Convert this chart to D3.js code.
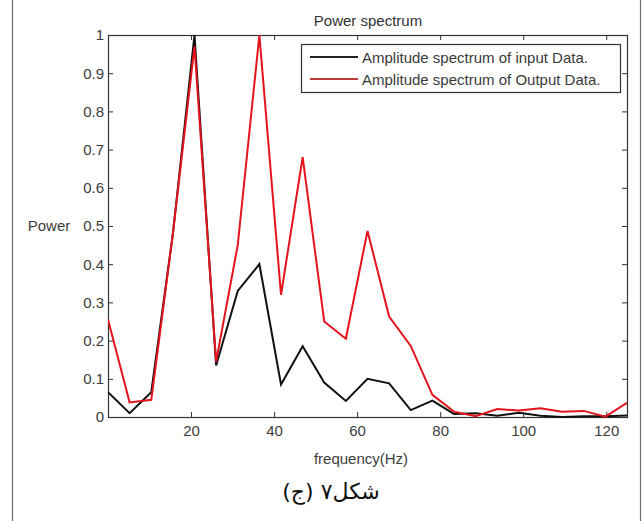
<!DOCTYPE html>
<html>
<head>
<meta charset="utf-8">
<script src="https://cdn.jsdelivr.net/npm/d3@7"></script>
<style>
  html, body { margin: 0; padding: 0; background: #fff; }
  svg { display: block; }
  text { font-family: "Liberation Sans", Arial, sans-serif; }
</style>
</head>
<body>
<div id="chart"></div>
<script>
// ---- data ----
const frequency = [0, 5.21, 10.42, 15.63, 20.83, 26.04, 31.25, 36.46, 41.67, 46.88, 52.08, 57.29,
  62.5, 67.71, 72.92, 78.13, 83.33, 88.54, 93.75, 98.96, 104.17, 109.38, 114.58, 119.79, 125];
const inputSpectrum = [0.065, 0.01, 0.065, 0.48, 1.0, 0.135, 0.33, 0.40, 0.085, 0.185, 0.09, 0.042,
  0.10, 0.088, 0.018, 0.043, 0.008, 0.01, 0.003, 0.011, 0.003, 0.0, 0.002, 0.002, 0.004];
const outputSpectrum = [0.255, 0.038, 0.045, 0.48, 0.97, 0.145, 0.45, 1.0, 0.32, 0.68, 0.25, 0.205,
  0.487, 0.263, 0.186, 0.058, 0.014, 0.002, 0.021, 0.017, 0.023, 0.014, 0.016, 0.001, 0.037];
const xTicks = [20, 40, 60, 80, 100, 120];
const yTicks = [0, 0.1, 0.2, 0.3, 0.4, 0.5, 0.6, 0.7, 0.8, 0.9, 1];
const seriesNames = ["Amplitude spectrum of input Data.", "Amplitude spectrum of Output Data."];
const seriesColors = ["#111111", "#e3141c"];
const legendColors = ["#222222", "#c0393b"];
const titleText = "Power spectrum";
const xLabel = "frequency(Hz)";
const yLabel = "Power";
const caption = "شکل۷ (ج)";

// ---- layout ----
const W = 644, H = 521;
const plot = { left: 108, right: 627, top: 35, bottom: 417 };

const svg = d3.select("#chart").append("svg").attr("width", W).attr("height", H);
svg.append("rect").attr("width", W).attr("height", H).attr("fill", "#fff");

// outer image frame (vertical edges)
svg.append("line").attr("x1", 12.5).attr("x2", 12.5).attr("y1", 0).attr("y2", H)
  .attr("stroke", "#6a6a6a").attr("stroke-width", 1.2);
svg.append("line").attr("x1", 640.5).attr("x2", 640.5).attr("y1", 0).attr("y2", H)
  .attr("stroke", "#6a6a6a").attr("stroke-width", 1.2);

const x = d3.scaleLinear().domain([0, 125]).range([plot.left, plot.right]);
const y = d3.scaleLinear().domain([0, 1]).range([plot.bottom, plot.top]);

const fmtY = d => (d === 0 || d === 1) ? String(d) : d3.format(".1f")(d);

// axes with inward ticks
const axBottom = svg.append("g").attr("transform", `translate(0,${plot.bottom})`)
  .call(d3.axisBottom(x).tickValues(xTicks).tickSize(-5).tickPadding(8).tickFormat(d3.format("d")));
const axTop = svg.append("g").attr("transform", `translate(0,${plot.top})`)
  .call(d3.axisTop(x).tickValues(xTicks).tickSize(-5).tickFormat(""));
const axLeft = svg.append("g").attr("transform", `translate(${plot.left},0)`)
  .call(d3.axisLeft(y).tickValues(yTicks).tickSize(-5).tickPadding(4).tickFormat(fmtY));
const axRight = svg.append("g").attr("transform", `translate(${plot.right},0)`)
  .call(d3.axisRight(y).tickValues(yTicks).tickSize(-5).tickFormat(""));

[axBottom, axTop, axLeft, axRight].forEach(g => {
  g.select(".domain").remove();
  g.selectAll(".tick line").attr("stroke", "#333").attr("stroke-width", 1);
  g.selectAll(".tick text").attr("fill", "#3c3c3c").style("font-size", "15px")
    .style("font-family", "'Liberation Sans', Arial, sans-serif");
});

// plot frame
svg.append("rect")
  .attr("x", plot.left + 0.5).attr("y", plot.top + 0.5)
  .attr("width", plot.right - plot.left).attr("height", plot.bottom - plot.top)
  .attr("fill", "none").attr("stroke", "#333").attr("stroke-width", 1.2);

// lines
const clip = svg.append("clipPath").attr("id", "clip").append("rect")
  .attr("x", plot.left).attr("y", plot.top - 2)
  .attr("width", plot.right - plot.left).attr("height", plot.bottom - plot.top + 3);

const line = d3.line().x((d, i) => x(frequency[i])).y(d => y(d));
[inputSpectrum, outputSpectrum].forEach((s, k) => {
  svg.append("path").datum(s)
    .attr("clip-path", "url(#clip)")
    .attr("d", line)
    .attr("fill", "none")
    .attr("stroke", seriesColors[k])
    .attr("stroke-width", 2)
    .attr("stroke-linejoin", "miter");
});

// title and labels
svg.append("text").attr("x", 368).attr("y", 26).attr("text-anchor", "middle")
  .attr("fill", "#333").style("font-size", "15px").text(titleText);
svg.append("text").attr("x", 361).attr("y", 464).attr("text-anchor", "middle")
  .attr("fill", "#3c3c3c").style("font-size", "15px").text(xLabel);
svg.append("text").attr("x", 49).attr("y", 231).attr("text-anchor", "middle")
  .attr("fill", "#3c3c3c").style("font-size", "15px").text(yLabel);

// legend
const lg = svg.append("g");
lg.append("rect").attr("x", 301.5).attr("y", 44.5).attr("width", 319).attr("height", 48)
  .attr("fill", "#fff").attr("stroke", "#333").attr("stroke-width", 1.2);
seriesNames.forEach((name, i) => {
  const yy = 57 + i * 22;
  lg.append("line").attr("x1", 310).attr("x2", 358).attr("y1", yy).attr("y2", yy)
    .attr("stroke", legendColors[i]).attr("stroke-width", 2.2);
  lg.append("text").attr("x", 362).attr("y", yy + 5.5).attr("fill", "#3a3a3a")
    .style("font-size", "15px").text(name);
});

// caption
svg.append("text").attr("x", 331).attr("y", 499).attr("text-anchor", "middle")
  .attr("direction", "rtl").attr("fill", "#111")
  .style("font-family", "'DejaVu Sans', 'Noto Sans', sans-serif")
  .style("font-size", "22px").text(caption);
</script>
</body>
</html>
